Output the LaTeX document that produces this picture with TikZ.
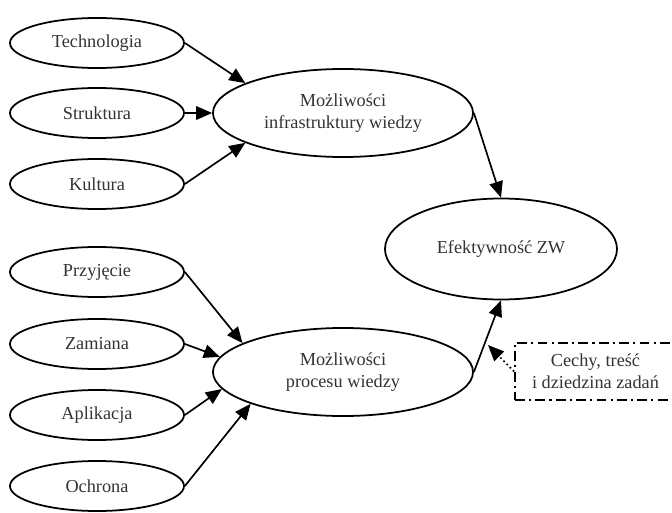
\documentclass[tikz,border=0pt]{standalone}
\usepackage{fontspec}
\setmainfont{Liberation Serif}
\usepackage{tikz}
\usetikzlibrary{shapes.geometric,arrows.meta}

\begin{document}
\begin{tikzpicture}[x=0.025cm,y=-0.025cm,
  every node/.style={font=\fontsize{13}{15.5}\selectfont,text=black!80,align=center},
  smallell/.style={draw,ellipse,line width=1.25pt,minimum width=4.35cm,minimum height=1.25cm,inner sep=0pt},
  bigell/.style={draw,ellipse,line width=1.25pt,minimum width=6.5cm,minimum height=2.2cm,inner sep=0pt},
  arr/.style={line width=1.2pt,-{Triangle[length=0.4cm,width=0.34cm]}}]
\useasboundingbox (0,0) rectangle (672,513);
\clip (0,0) rectangle (672,513);
\node[smallell] (tech) at (97,43) {Technologia};
\node[smallell] (strukt) at (97,113) {Struktura};
\node[smallell] (kult) at (97,184) {Kultura};
\node[smallell] (przyj) at (97,272) {Przyjęcie};
\node[smallell] (zam) at (97,344) {Zamiana};
\node[smallell] (apl) at (97,415) {Aplikacja};
\node[smallell] (ochr) at (97,486) {Ochrona};
\node[bigell] (infra) at (343,113) {Możliwości\\infrastruktury wiedzy};
\node[bigell] (proc) at (343,372) {Możliwości\\procesu wiedzy};
\node[bigell,minimum width=5.8cm,minimum height=2.525cm] (eff) at (501,249) {Efektywność ZW};
\node[draw,line width=1.25pt,dash pattern=on 7pt off 3pt on 1.5pt off 3pt,
  minimum width=4.025cm,minimum height=1.425cm,inner sep=0pt] (cechy) at (595.5,371.5)
  {Cechy, treść\\i dziedzina zadań};
\coordinate (hit) at (488,345);
\draw[arr] (tech.east) -- (infra.163);
\draw[arr] (strukt.east) -- (infra.west);
\draw[arr] (kult.east) -- (infra.197);
\draw[arr] (przyj.east) -- (proc.164);
\draw[arr] (zam.east) -- (proc.173);
\draw[arr] (apl.east) -- (proc.188);
\draw[arr] (ochr.east) -- (proc.199);
\draw[arr] (infra.east) -- (eff.north);
\draw[arr] (proc.east) -- (eff.south);
\draw[arr,dotted] (cechy.west) -- (hit);
\end{tikzpicture}
\end{document}
